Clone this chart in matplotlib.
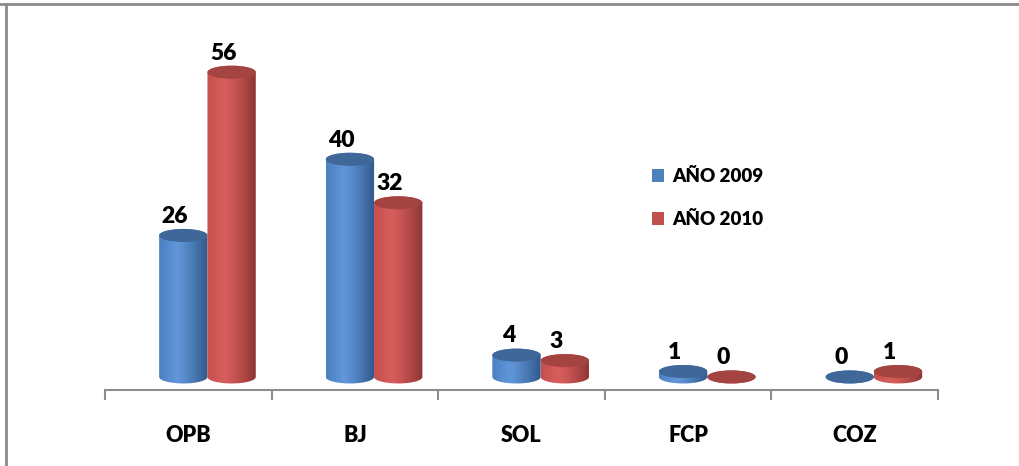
import numpy as np
import matplotlib
matplotlib.use("Agg")
import matplotlib.pyplot as plt
from matplotlib.patches import Polygon, Ellipse, Patch
from matplotlib.lines import Line2D
from matplotlib.colors import to_rgba

categories = ["OPB", "BJ", "SOL", "FCP", "COZ"]
series_names = ["AÑO 2009", "AÑO 2010"]
values_2009 = [26, 40, 4, 1, 0]
values_2010 = [56, 32, 3, 0, 1]

FONT = ["Lato", "DejaVu Sans"]
plt.rcParams["font.family"] = FONT

W, H = 1019, 466
fig = plt.figure(figsize=(W / 100, H / 100), dpi=100)
fig.patch.set_facecolor("white")

ax_left, ax_right = 105 / W, 938 / W
ax_bot, ax_top = 1 - 390 / H, 1 - 20 / H
ax = fig.add_axes([ax_left, ax_bot, ax_right - ax_left, ax_top - ax_bot])
ymin, ymax = -2.4, 65.6
ax.set_xlim(-0.5, 4.5)
ax.set_ylim(ymin, ymax)

styles = [
    dict(light="#6096D8", mid="#4C80C2", dark="#30588A", top="#3F6798", legend="#4F81BD"),
    dict(light="#D85E5C", mid="#C4504D", dark="#8C3533", top="#A34441", legend="#C0504D"),
]
bw = 0.29
eh = 2.4
pair_shift = 0.115


def gradient(st, n=64):
    t = np.linspace(0, 1, n)
    c_mid = np.array(to_rgba(st["mid"]))
    c_light = np.array(to_rgba(st["light"]))
    c_dark = np.array(to_rgba(st["dark"]))
    out = np.zeros((1, n, 4))
    for i, tt in enumerate(t):
        if tt < 0.35:
            f = tt / 0.35
            c = c_mid * (1 - f) + c_light * f
        else:
            f = (tt - 0.35) / 0.65
            c = c_light * (1 - f ** 1.3) + c_dark * f ** 1.3
        out[0, i] = c
    return out


def cylinder(xc, v, st, z):
    x0, x1 = xc - bw / 2, xc + bw / 2
    tb = np.linspace(np.pi, 2 * np.pi, 60)
    bx = xc + bw / 2 * np.cos(tb)
    by = eh / 2 * np.sin(tb)
    tt = np.linspace(0, np.pi, 60)
    tx = xc + bw / 2 * np.cos(tt)
    ty = v + eh / 2 * np.sin(tt)
    pts = np.concatenate([np.c_[bx, by], np.c_[tx, ty]])
    poly = Polygon(pts, closed=True, facecolor="none", edgecolor="none", zorder=z)
    ax.add_patch(poly)
    im = ax.imshow(gradient(st), extent=(x0, x1, -eh, v + eh), aspect="auto",
                   zorder=z, interpolation="bilinear")
    im.set_clip_path(poly)
    ax.add_patch(Ellipse((xc, v), bw, eh, facecolor=st["top"], edgecolor="none", zorder=z + 0.1))


x = np.arange(len(categories))
for si, vals in enumerate([values_2009, values_2010]):
    for i, v in enumerate(vals):
        xc = x[i] + pair_shift + (si - 0.5) * bw
        cylinder(xc, v, styles[si], 2 + si)
        ax.text(xc - 0.05, v + eh / 2 + 0.4, str(v), ha="center", va="bottom",
                fontsize=16.5, fontweight="heavy", color="black", zorder=10)

ax.set_xlim(-0.5, 4.5)
ax.set_ylim(ymin, ymax)

for s in ["left", "right", "top"]:
    ax.spines[s].set_visible(False)
ax.spines["bottom"].set_color("#8C8C8C")
ax.spines["bottom"].set_linewidth(1.5)
ax.set_yticks([])
ax.set_xticks(np.arange(-0.5, 5, 1.0))
ax.set_xticklabels([])
ax.tick_params(axis="x", which="major", length=7, width=1.5, color="#8C8C8C", direction="out")
ax.set_xticks(x, minor=True)
ax.set_xticklabels(categories, minor=True, fontsize=15.5, fontweight="heavy")
ax.tick_params(axis="x", which="minor", length=0, pad=25)

handles = [Patch(facecolor=styles[i]["legend"], edgecolor="none") for i in range(2)]
fig.legend(handles, series_names, loc="upper left", bbox_to_anchor=(652 / W, 1 - 168 / H),
           frameon=False, prop=dict(family=FONT, weight="heavy", size=13.5),
           handlelength=0.65, handleheight=0.65, handletextpad=0.45,
           labelspacing=1.4, borderpad=0, borderaxespad=0)

fig.add_artist(Line2D([0, 1], [1 - 4 / H, 1 - 4 / H], transform=fig.transFigure,
                      color="#8C8C8C", lw=2))
fig.add_artist(Line2D([6 / W, 6 / W], [0, 1 - 4 / H], transform=fig.transFigure,
                      color="#8C8C8C", lw=2))

fig.savefig("out.png", dpi=100)
